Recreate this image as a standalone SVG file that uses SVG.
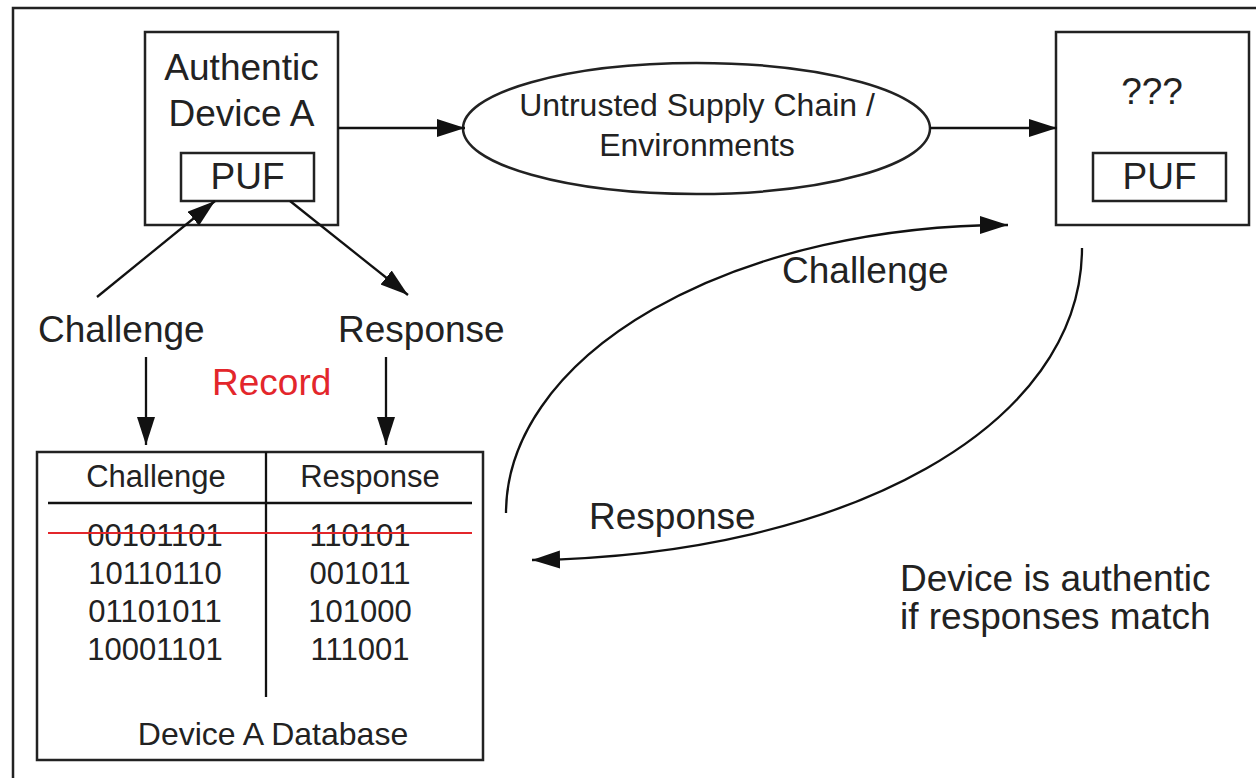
<svg xmlns="http://www.w3.org/2000/svg" width="1256" height="778" viewBox="0 0 1256 778">
<style>
  .box { fill: #fff; stroke: #222; stroke-width: 2.5; }
  .ln { fill: none; stroke: #111; stroke-width: 2.3; }
  .t { font-family: "Liberation Sans", Arial, sans-serif; fill: #222; }
  .big { font-size: 37px; }
  .mid { font-size: 32px; }
  .tb { font-size: 31px; }
  .red { fill: #e3262b; }
</style>
<defs>
  <marker id="ah" markerUnits="userSpaceOnUse" markerWidth="30" markerHeight="20" refX="28" refY="9" orient="auto">
    <path d="M0,0 L28,9 L0,18 Z" fill="#111"/>
  </marker>
</defs>
<rect width="1256" height="778" fill="#fff"/>
<g id="frame">
  <path d="M13,778 L13,8 L1256,8" fill="none" stroke="#222" stroke-width="2.5"/>
</g>
<g id="deviceA">
  <rect class="box" x="145" y="32" width="193" height="193"/>
  <text class="t big" x="241.5" y="80" text-anchor="middle">Authentic</text>
  <text class="t big" x="241.5" y="126" text-anchor="middle">Device A</text>
  <rect class="box" x="181" y="153" width="133" height="48"/>
  <text class="t big" x="247.5" y="189" text-anchor="middle">PUF</text>
</g>
<g id="supplyChain">
  <ellipse class="box" cx="696.5" cy="128.5" rx="233.5" ry="65.5"/>
  <text class="t mid" x="697" y="116" text-anchor="middle">Untrusted Supply Chain /</text>
  <text class="t mid" x="697" y="156" text-anchor="middle">Environments</text>
</g>
<g id="unknownDevice">
  <rect class="box" x="1056" y="32" width="193" height="193"/>
  <text class="t big" x="1152" y="104" text-anchor="middle">???</text>
  <rect class="box" x="1093" y="153" width="133" height="48"/>
  <text class="t big" x="1159.5" y="189" text-anchor="middle">PUF</text>
</g>
<g id="labels">
  <text class="t big" x="38" y="342">Challenge</text>
  <text class="t big" x="338" y="342">Response</text>
  <text class="t big red" x="212" y="395">Record</text>
  <text class="t big" x="782" y="283">Challenge</text>
  <text class="t big" x="589" y="529">Response</text>
  <text class="t big" x="900" y="591">Device is authentic</text>
  <text class="t big" x="900" y="629">if responses match</text>
</g>
<g id="database">
  <rect class="box" x="37" y="452" width="446" height="308"/>
  <line class="ln" x1="266" y1="452" x2="266" y2="697"/>
  <line class="ln" x1="48" y1="503" x2="472" y2="503"/>
  <text class="t tb" x="156" y="487" text-anchor="middle">Challenge</text>
  <text class="t tb" x="370" y="487" text-anchor="middle">Response</text>
  <text class="t tb" x="155" y="546" text-anchor="middle">00101101</text>
  <text class="t tb" x="360" y="546" text-anchor="middle">110101</text>
  <text class="t tb" x="155" y="584" text-anchor="middle">10110110</text>
  <text class="t tb" x="360" y="584" text-anchor="middle">001011</text>
  <text class="t tb" x="155" y="622" text-anchor="middle">01101011</text>
  <text class="t tb" x="360" y="622" text-anchor="middle">101000</text>
  <text class="t tb" x="155" y="660" text-anchor="middle">10001101</text>
  <text class="t tb" x="360" y="660" text-anchor="middle">111001</text>
  <line x1="48" y1="533" x2="472" y2="533" stroke="#e3262b" stroke-width="2.2"/>
  <text class="t" x="273" y="745" text-anchor="middle" font-size="32">Device A Database</text>
</g>
<g id="connectors">
  <line class="ln" x1="338" y1="128" x2="465" y2="128" marker-end="url(#ah)"/>
  <line class="ln" x1="930" y1="128" x2="1057" y2="128" marker-end="url(#ah)"/>
  <line class="ln" x1="97" y1="297" x2="215" y2="201" marker-end="url(#ah)"/>
  <line class="ln" x1="290" y1="201" x2="408" y2="295" marker-end="url(#ah)"/>
  <line class="ln" x1="146" y1="357" x2="146" y2="445" marker-end="url(#ah)"/>
  <line class="ln" x1="386" y1="357" x2="386" y2="445" marker-end="url(#ah)"/>
  <path class="ln" d="M506,513 A502,288 0 0 1 1008,225" marker-end="url(#ah)"/>
  <path class="ln" d="M1082,248 C1082,425 850,555 532,560" marker-end="url(#ah)"/>
</g>
</svg>
